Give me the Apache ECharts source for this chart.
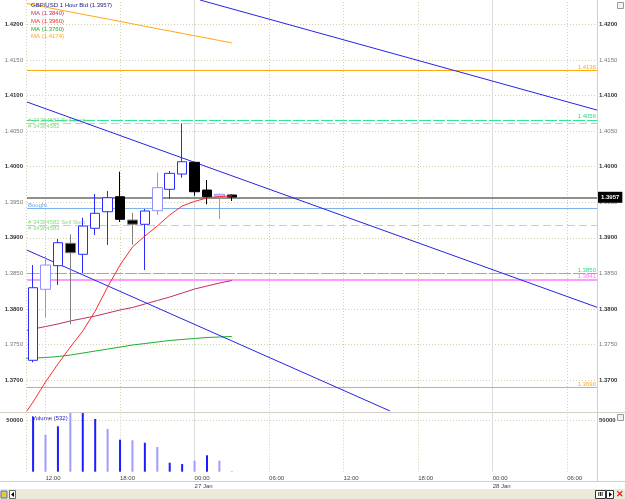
<!DOCTYPE html>
<html><head><meta charset="utf-8">
<script src="https://cdn.jsdelivr.net/npm/echarts@6/dist/echarts.min.js"></script>
<style>html,body{margin:0;padding:0;background:#fff}#c{width:625px;height:499px}</style>
</head><body><div id="c"></div>
<script>
// ---------- data ----------
const hours  = [11,12,13,14,15,16,17,18,19,20,21,22,23,24,25,26,27];
const opens  = [1.37277,1.38276,1.38608,1.38923,1.38768,1.39134,1.39367,1.39578,1.39250,1.39190,1.39381,1.39682,1.39897,1.40062,1.39672,1.39588,1.39602];
const closes = [1.38298,1.38617,1.38931,1.38790,1.39166,1.39345,1.39564,1.39260,1.39191,1.39377,1.39705,1.39907,1.40070,1.39648,1.39578,1.39612,1.39574];
const lows   = [1.37249,1.37882,1.38336,1.37783,1.38501,1.39039,1.38899,1.39222,1.38903,1.38547,1.39321,1.39546,1.39845,1.39592,1.39471,1.39264,1.39518];
const highs  = [1.38617,1.38744,1.38983,1.39049,1.39283,1.39616,1.39658,1.39930,1.39353,1.39405,1.39916,1.39940,1.40610,1.40068,1.39813,1.39620,1.39610];
const candleTone = ['up','upLight','up','downGray','up','up','up','down','downGray','up','upLight','up','up','down','down','upLight','down'];
const volumes    = [54000,36300,44500,60000,60000,51700,41900,31400,30800,28400,24200,8800,7500,10800,16100,10800,532];
const volumeTone = ['d','l','d','l','d','d','l','d','l','d','l','d','d','l','d','l','l'];

const maHours = [10,11,12,13,14,15,16,17,18,19,20,21,22,23,24,25,26,27];
const maFast  = [1.36437,1.36691,1.36972,1.37225,1.37464,1.37689,1.37970,1.38308,1.38617,1.38871,1.39025,1.39166,1.39321,1.39447,1.39512,1.39560,1.39581,1.39590];
const maMid   = [1.37682,1.37717,1.37752,1.37788,1.37830,1.37865,1.37900,1.37942,1.37985,1.38020,1.38069,1.38118,1.38167,1.38223,1.38280,1.38322,1.38364,1.38399];
const maSlow  = [1.37302,1.37309,1.37316,1.37330,1.37351,1.37379,1.37407,1.37435,1.37463,1.37492,1.37513,1.37534,1.37556,1.37570,1.37584,1.37598,1.37605,1.37612];
const maLong  = [1.42312,1.42278,1.42245,1.42211,1.42177,1.42143,1.42111,1.42077,1.42044,1.42010,1.41976,1.41942,1.41909,1.41875,1.41842,1.41809,1.41775,1.41741];

const trendA = [[24.44,1.42345],[56.40,1.40797]];
const trendB = [[10.51,1.40910],[56.40,1.38023]];
const trendC = [[10.49,1.38828],[39.74,1.36564]];

const levelPrices = [1.4136,1.4066,1.4061,1.3957,1.39415,1.3918,1.3850,1.3841,1.3690];

const xTickValues = [12,18,24,30,36,42,48,54];
const xTickLabels = ['12:00','18:00','00:00\n27 Jan','06:00','12:00','18:00','00:00\n28 Jan','06:00'];
const dayBreaks   = [24,48];
const yTickValues = [1.370,1.375,1.380,1.385,1.390,1.395,1.400,1.405,1.410,1.415,1.420];
const yTickLabels = ['1.3700','1.3750','1.3800','1.3850','1.3900','1.3950','1.4000','1.4050','1.4100','1.4150','1.4200'];
const volTickValues = [50000];
const volTickLabels = ['50000'];

const legendTexts = ['MA (1.3840)','MA (1.3960)','MA (1.3760)','MA (1.4174)'];
const titleText = 'GBP/USD 1 Hour Bid (1.3957)';

// ---------- styles ----------
const FONT = 'Liberation Sans';
const X_MIN = 10.51, X_MAX = 56.40;
const Y_MIN = 1.36564, Y_MAX = 1.42345;
const VOL_MAX = 57549;
const dotted = {color:'#d6cfae', type:[1,2], width:1};
const daySolid = {color:'#dcdcdc', type:'solid', width:1};
const toneStyle = {
  up:{color:'#ffffff',color0:'#ffffff',borderColor:'#2b2bff',borderColor0:'#2b2bff'},
  upLight:{color:'#ffffff',color0:'#ffffff',borderColor:'#9090ff',borderColor0:'#9090ff'},
  down:{color:'#000000',color0:'#000000',borderColor:'#000000',borderColor0:'#000000'},
  downGray:{color:'#000000',color0:'#000000',borderColor:'#808080',borderColor0:'#808080'}
};
const volColor = {d:'#1c1cff', l:'#9d9dff'};

const candleData = hours.map((h,i)=>({value:[h,opens[i],closes[i],lows[i],highs[i]], itemStyle:toneStyle[candleTone[i]]}));
const volData = hours.map((h,i)=>({value:[h,volumes[i]], itemStyle:{color:volColor[volumeTone[i]]}}));
const zip = (xs,ys)=>xs.map((x,i)=>[x,ys[i]]);

function yLabelFmt(v){
  let i = yTickValues.findIndex(t=>Math.abs(t-v)<1e-7);
  if (i<0) return '';
  const major = Math.round(v*1000)%10===0;
  return (major?'{maj|':'{min|')+yTickLabels[i]+'}';
}
function xLabelFmt(v){
  let i = xTickValues.findIndex(t=>Math.abs(t-v)<1e-7);
  return i<0?'':xTickLabels[i];
}
const yRich = {maj:{fontSize:6,fontWeight:'bold',color:'#333',fontFamily:FONT}, min:{fontSize:6,color:'#777',fontFamily:FONT}};

function lvl(v, style, label){ const o={yAxis:v, lineStyle:style}; o.label = label?label:{show:false}; return o; }
const rightLbl = (t,c)=>({show:true, position:'insideEndTop', formatter:t, color:c, fontSize:6, fontFamily:FONT, distance:[1,0]});
const leftLbl  = (t,c,pos)=>({show:true, position:pos||'insideStartTop', formatter:t, color:c, fontSize:6, fontFamily:FONT, distance:[1,0]});

const orange = {color:'#ffa814', type:'solid', width:1};
const spring = {color:'#2ee890', type:[12,2], width:1.2};
const lightGreen = {color:'#a3e6a3', type:[8,4], width:1};
const priceLine = {color:'#6a6a6a', type:'solid', width:1.5};
const bought = {color:'#7fb3ee', type:'solid', width:1};
const pink = {color:'#ff9cff', type:'solid', width:2};

const levelMarks = [
  lvl(levelPrices[0], orange, rightLbl('1.4136','#ffa814')),
  lvl(levelPrices[1], spring, rightLbl('1.4056','#2fd88a')),
  lvl(levelPrices[2], lightGreen, leftLbl('# 34384583 Sell Limit','#8fd88f')),
  lvl(levelPrices[2], lightGreen, leftLbl('# 34384582','#8fd88f','insideStartBottom')),
  lvl(levelPrices[3], priceLine, {show:true, position:'end', formatter:'1.3957', color:'#fff', backgroundColor:'#000', padding:[2,3,3,3], fontSize:6, fontWeight:'bold', fontFamily:FONT, distance:1}),
  lvl(levelPrices[4], bought, leftLbl('Bought','#6fa6ea')),
  lvl(levelPrices[5], lightGreen, leftLbl('# 34384582 Sell Stop','#8fd88f')),
  lvl(levelPrices[5], lightGreen, leftLbl('# 34384583','#8fd88f','insideStartBottom')),
  lvl(levelPrices[6], spring, rightLbl('1.3850','#2fd88a')),
  lvl(levelPrices[7], pink, rightLbl('1.3841','#ff7cff')),
  lvl(levelPrices[8], orange, rightLbl('1.3690','#ffa814'))
];

const gridMarks = [
  ...yTickValues.map(v=>({yAxis:v, lineStyle:dotted})),
  ...xTickValues.filter(h=>!dayBreaks.includes(h)).map(h=>({xAxis:h, lineStyle:dotted})),
  ...dayBreaks.map(h=>({xAxis:h, lineStyle:daySolid}))
];
const volGridMarks = [
  ...volTickValues.map(v=>({yAxis:v, lineStyle:dotted})),
  ...xTickValues.filter(h=>!dayBreaks.includes(h)).map(h=>({xAxis:h, lineStyle:dotted})),
  ...dayBreaks.map(h=>({xAxis:h, lineStyle:daySolid}))
];
const mkLine = (data, z)=>({z:z, symbol:['none','none'], silent:true, animation:false, precision:6, label:{show:false}, emphasis:{disabled:true}, data});

const chart = echarts.init(document.getElementById('c'), null, {renderer:'canvas'});
chart.setOption({
  animation:false,
  backgroundColor:'#ffffff',
  textStyle:{fontFamily:FONT},
  grid:[
    {left:27, top:0, width:570, height:411},
    {left:27, top:413, width:570, height:58.7}
  ],
  xAxis:[
    {type:'value', gridIndex:0, min:X_MIN, max:X_MAX, axisLine:{show:false}, axisTick:{show:false}, axisLabel:{show:false}, splitLine:{show:false}},
    {type:'value', gridIndex:1, min:X_MIN, max:X_MAX, axisLine:{show:false}, axisTick:{show:false}, splitLine:{show:false},
     axisLabel:{show:true, customValues:xTickValues, formatter:xLabelFmt, align:'left', margin:2, fontSize:6, lineHeight:8.5, color:'#444', fontFamily:FONT, hideOverlap:false}}
  ],
  yAxis:[
    {type:'value', gridIndex:0, position:'left', min:Y_MIN, max:Y_MAX, axisLine:{show:false}, axisTick:{show:false}, splitLine:{show:false},
     axisLabel:{customValues:yTickValues, formatter:yLabelFmt, rich:yRich, margin:4}},
    {type:'value', gridIndex:0, position:'right', min:Y_MIN, max:Y_MAX, axisLine:{show:false}, axisTick:{show:false}, splitLine:{show:false},
     axisLabel:{customValues:yTickValues, formatter:yLabelFmt, rich:yRich, margin:2}},
    {type:'value', gridIndex:1, position:'left', min:0, max:VOL_MAX, axisLine:{show:false}, axisTick:{show:false}, splitLine:{show:false},
     axisLabel:{customValues:volTickValues, formatter:(v)=>volTickLabels[volTickValues.indexOf(v)]||'', fontSize:6, fontWeight:'bold', color:'#333', margin:4}},
    {type:'value', gridIndex:1, position:'right', min:0, max:VOL_MAX, axisLine:{show:false}, axisTick:{show:false}, splitLine:{show:false},
     axisLabel:{customValues:volTickValues, formatter:(v)=>volTickLabels[volTickValues.indexOf(v)]||'', fontSize:6, fontWeight:'bold', color:'#333', margin:2}}
  ],
  series:[
    {type:'line', name:'grid', xAxisIndex:0, yAxisIndex:0, data:[], z:1, silent:true, markLine:mkLine(gridMarks,1)},
    {type:'line', name:'levels', xAxisIndex:0, yAxisIndex:0, data:[], z:2, silent:true, markLine:mkLine(levelMarks,2)},
    {type:'line', name:'maMid', xAxisIndex:0, yAxisIndex:0, data:zip(maHours,maMid), showSymbol:false, clip:true, z:3, lineStyle:{color:'#c0305c', width:1}},
    {type:'line', name:'maSlow', xAxisIndex:0, yAxisIndex:0, data:zip(maHours,maSlow), showSymbol:false, clip:true, z:3, lineStyle:{color:'#1fae2a', width:1}},
    {type:'line', name:'maLong', xAxisIndex:0, yAxisIndex:0, data:zip(maHours,maLong), showSymbol:false, clip:true, z:3, lineStyle:{color:'#ffa814', width:1}},
    {type:'line', name:'trendA', xAxisIndex:0, yAxisIndex:0, data:trendA, showSymbol:false, clip:true, z:3, lineStyle:{color:'#2424e6', width:1}},
    {type:'line', name:'trendB', xAxisIndex:0, yAxisIndex:0, data:trendB, showSymbol:false, clip:true, z:3, lineStyle:{color:'#2424e6', width:1}},
    {type:'line', name:'trendC', xAxisIndex:0, yAxisIndex:0, data:trendC, showSymbol:false, clip:true, z:3, lineStyle:{color:'#2424e6', width:1}},
    {type:'candlestick', name:'price', xAxisIndex:0, yAxisIndex:0, data:candleData, encode:{x:0, y:[1,2,3,4]}, barWidth:10, z:4, itemStyle:{borderWidth:1}},
    {type:'line', name:'maFast', xAxisIndex:0, yAxisIndex:0, data:zip(maHours,maFast), showSymbol:false, clip:true, z:5, lineStyle:{color:'#ff2a2a', width:1}},
    {type:'line', name:'volgrid', xAxisIndex:1, yAxisIndex:2, data:[], z:1, silent:true, markLine:mkLine(volGridMarks,1)},
    {type:'bar', name:'volume', xAxisIndex:1, yAxisIndex:2, data:volData, barWidth:2, z:3}
  ],
  graphic:[
    {type:'line', shape:{x1:0,y1:412.5,x2:625,y2:412.5}, style:{stroke:'#d4d0c8', lineWidth:1}, z:10},
    {type:'line', shape:{x1:0,y1:481.5,x2:625,y2:481.5}, style:{stroke:'#d4d0c8', lineWidth:1}, z:10},
    {type:'line', shape:{x1:597.5,y1:0,x2:597.5,y2:481}, style:{stroke:'#d4d0c8', lineWidth:1}, z:10},
    {type:'line', shape:{x1:26.5,y1:0,x2:26.5,y2:472}, style:{stroke:'#d6cfae', lineWidth:1, lineDash:[1,2]}, z:10},
    {type:'rect', shape:{x:0,y:489,width:625,height:10}, style:{fill:'#ece9d8'}, z:10},
    {type:'rect', shape:{x:1,y:491,width:6,height:7}, style:{fill:'#f4c430', stroke:'#3a7bd5', lineWidth:1}, z:11},
    {type:'rect', shape:{x:9.5,y:490.5,width:6,height:8}, style:{fill:'#fff', stroke:'#666', lineWidth:1}, z:11},
    {type:'polygon', shape:{points:[[14,492],[14,497],[11,494.5]]}, style:{fill:'#000'}, z:12},
    {type:'rect', shape:{x:595.5,y:490.5,width:10,height:8}, style:{fill:'#fff', stroke:'#333', lineWidth:1}, z:11},
    {type:'text', style:{text:'III', x:600.5, y:494.5, fill:'#000', fontSize:6, fontWeight:'bold', align:'center', verticalAlign:'middle', fontFamily:FONT}, z:12},
    {type:'rect', shape:{x:606.5,y:490.5,width:7,height:8}, style:{fill:'#fff', stroke:'#333', lineWidth:1}, z:11},
    {type:'polygon', shape:{points:[[609,492],[609,497],[612,494.5]]}, style:{fill:'#000'}, z:12},
    {type:'text', style:{text:'✕', x:619.5, y:494.5, fill:'#e02020', fontSize:9, fontWeight:'bold', align:'center', verticalAlign:'middle'}, z:12},
    {type:'rect', shape:{x:617.5,y:2.5,width:6,height:6}, style:{fill:'#f4f4f4', stroke:'#999', lineWidth:1}, z:11},
    {type:'rect', shape:{x:617.5,y:414.5,width:6,height:6}, style:{fill:'#f4f4f4', stroke:'#999', lineWidth:1}, z:11},
    {type:'text', style:{text:titleText, x:31, y:5, fill:'#1a1a80', fontSize:6, verticalAlign:'middle', fontFamily:FONT}, z:12},
    {type:'text', style:{text:legendTexts[0], x:31, y:13.5, fill:'#c0305c', fontSize:6, verticalAlign:'middle', fontFamily:FONT}, z:12},
    {type:'text', style:{text:legendTexts[1], x:31, y:21, fill:'#ff2a2a', fontSize:6, verticalAlign:'middle', fontFamily:FONT}, z:12},
    {type:'text', style:{text:legendTexts[2], x:31, y:29, fill:'#1fae2a', fontSize:6, verticalAlign:'middle', fontFamily:FONT}, z:12},
    {type:'text', style:{text:legendTexts[3], x:31, y:36.7, fill:'#ffa814', fontSize:6, verticalAlign:'middle', fontFamily:FONT}, z:12},
    {type:'text', style:{text:'Volume (532)', x:32, y:418, fill:'#1c1cd0', fontSize:6, verticalAlign:'middle', fontFamily:FONT}, z:12}
  ]
});
</script></body></html>
